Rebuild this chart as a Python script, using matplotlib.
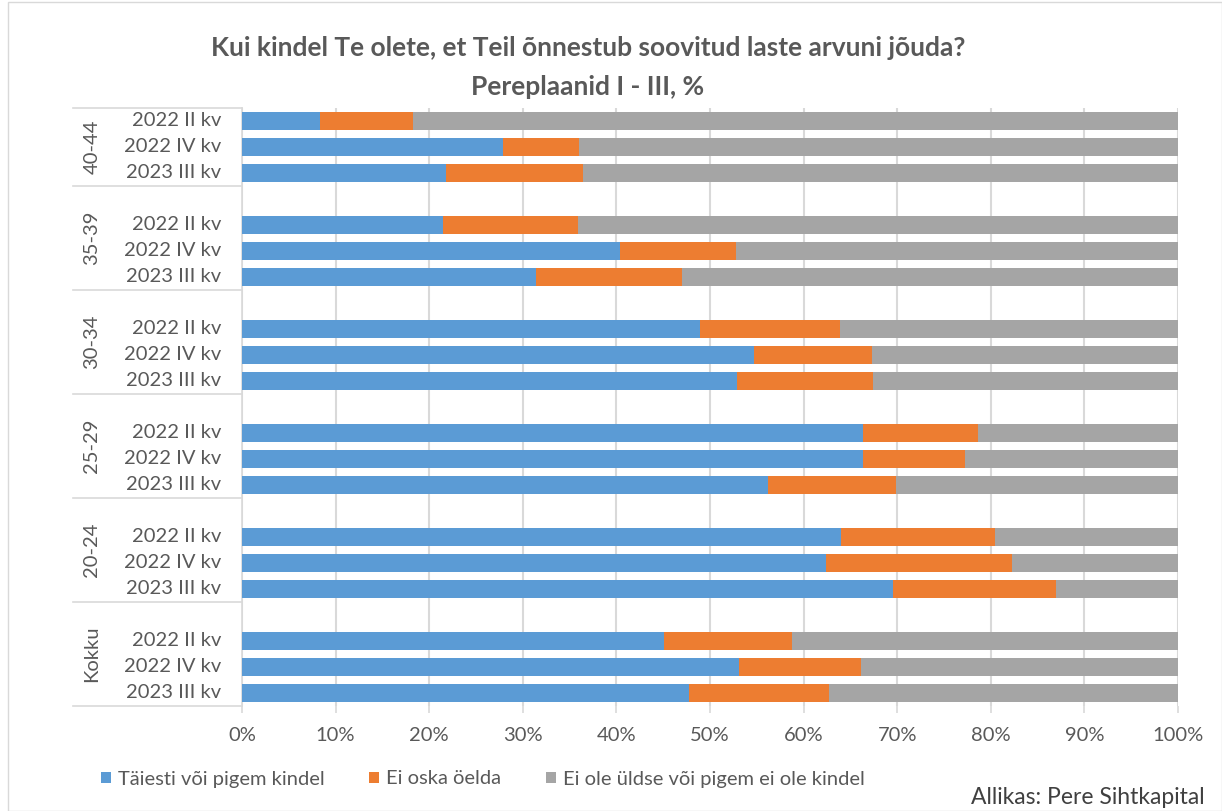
import matplotlib.pyplot as plt
import matplotlib.transforms as mtransforms
from matplotlib.patches import Rectangle
import numpy as np

plt.rcParams['font.family'] = ['Lato', 'DejaVu Sans']

# data (percent)
groups = ["40-44", "35-39", "30-34", "25-29", "20-24", "Kokku"]
periods = ["2022 II kv", "2022 IV kv", "2023 III kv"]

# "Täiesti või pigem kindel"
kindel = [8.3, 27.9, 21.8,
          21.5, 40.4, 31.4,
          48.9, 54.7, 52.9,
          66.3, 66.3, 56.2,
          64.0, 62.4, 69.6,
          45.1, 53.1, 47.8]
# "Ei oska öelda"
ei_oska = [10.0, 8.1, 14.6,
           14.4, 12.4, 15.6,
           15.0, 12.6, 14.5,
           12.3, 10.9, 13.7,
           16.4, 19.9, 17.4,
           13.7, 13.0, 14.9]

series_names = ["Täiesti või pigem kindel", "Ei oska öelda",
                "Ei ole üldse või pigem ei ole kindel"]
colors = ["#5B9BD5", "#ED7D31", "#A5A5A5"]

kindel = np.array(kindel)
ei_oska = np.array(ei_oska)
ei_ole = 100 - kindel - ei_oska

# positions: a blank slot between groups (Excel style)
ypos = []
for g in range(len(groups)):
    for p in range(len(periods)):
        ypos.append(g * 4 + p)
ypos = np.array(ypos)

fig = plt.figure(figsize=(12.22, 8.11), dpi=100)
ax = fig.add_axes([242 / 1222, 1 - 706 / 811, 936 / 1222, 598 / 811])

h = 0.66
ax.barh(ypos, kindel, height=h, color=colors[0], label=series_names[0], zorder=3)
ax.barh(ypos, ei_oska, left=kindel, height=h, color=colors[1], label=series_names[1], zorder=3)
ax.barh(ypos, ei_ole, left=kindel + ei_oska, height=h, color=colors[2], label=series_names[2], zorder=3)

ax.set_xlim(0, 100)
ax.set_ylim(ypos.max() + 0.5, -0.5)
ax.set_xticks(np.arange(0, 101, 10))
ax.set_xticklabels([f"{v}%" for v in range(0, 101, 10)])
ax.tick_params(axis='x', length=5, color="#d9d9d9", width=1.2, pad=10,
               labelsize=14.5, labelcolor="#595959")
ax.xaxis.grid(True, color="#d9d9d9", linewidth=1.5, zorder=0)
ax.set_yticks([])
for s in ["top", "right", "bottom"]:
    ax.spines[s].set_visible(False)
ax.spines["left"].set_color("#d9d9d9")
ax.spines["left"].set_linewidth(1.2)

# category labels on the left
trans = mtransforms.blended_transform_factory(ax.transAxes, ax.transData)
for y, i in zip(ypos, range(len(ypos))):
    ax.text(-21 / 936, y, periods[i % 3], transform=trans, ha="right", va="center",
            fontsize=14.5, color="#595959")

bounds = [-0.5] + [g * 4 + 2.5 for g in range(len(groups))]
for b in bounds:
    ax.plot([-169 / 936, 0], [b, b], transform=trans, color="#d9d9d9",
            linewidth=1.2, clip_on=False)
for g, name in enumerate(groups):
    yc = (bounds[g] + bounds[g + 1]) / 2
    ax.text(-150 / 936, yc, name, transform=trans, rotation=90, ha="center",
            va="center", fontsize=14.5, color="#595959")

fig.text(588 / 1222, 1 - 48 / 811, "Kui kindel Te olete, et Teil õnnestub soovitud laste arvuni jõuda?",
         ha="center", va="center", fontsize=19, fontweight="bold", color="#595959")
fig.text(588 / 1222, 1 - 87 / 811, "Pereplaanid I - III, %",
         ha="center", va="center", fontsize=19, fontweight="bold", color="#595959")

fig.legend(loc="center left", bbox_to_anchor=(83 / 1222, 1 - 779 / 811), ncol=3,
           frameon=False, fontsize=14.5, labelcolor="#595959", handlelength=0.5,
           handleheight=0.5, handletextpad=0.35, columnspacing=2.2)

fig.text(1205 / 1222, 1 - 797 / 811, "Allikas: Pere Sihtkapital", ha="right",
         va="center", fontsize=16.5, color="#404040")

fig.patches.append(Rectangle((8 / 1222, 0), 1 - 8 / 1222, 1 - 2 / 811, transform=fig.transFigure,
                             fill=False, edgecolor="#d9d9d9", linewidth=1))

fig.savefig("out.png", dpi=100)
